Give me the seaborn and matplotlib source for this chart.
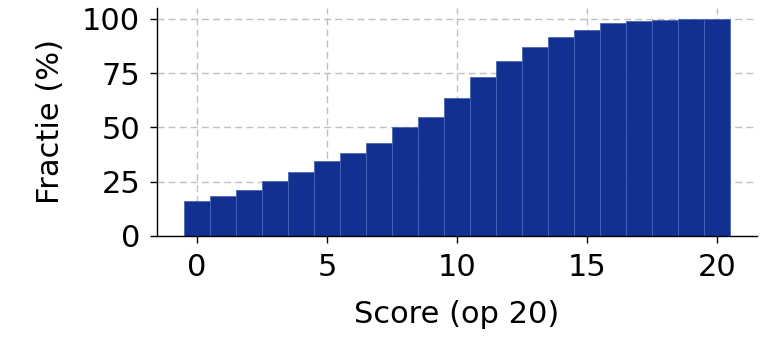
import matplotlib
matplotlib.use("Agg")
import matplotlib.pyplot as plt
import seaborn as sns
import pandas as pd

scores = list(range(21))
cum_pct = [15.9, 18.5, 21.3, 25.5, 29.6, 34.6, 38.1, 42.7, 50.0, 54.8, 63.4,
           73.0, 80.6, 86.9, 91.7, 94.8, 98.3, 99.1, 99.5, 99.8, 100.0]
yticks = [0, 25, 50, 75, 100]
xticks = [0, 5, 10, 15, 20]

sns.set_style("ticks")
plt.rcParams['font.family'] = ['DejaVu Sans']
plt.rcParams['font.sans-serif'] = ['DejaVu Sans']

df = pd.DataFrame({"score": scores, "pct": cum_pct})

fig, ax = plt.subplots(figsize=(7.76, 3.48), dpi=100)
fig.subplots_adjust(left=0.202, right=0.976, top=0.977, bottom=0.322)

sns.histplot(data=df, x="score", weights="pct", discrete=True, ax=ax,
             color="#12308f", alpha=1.0, edgecolor="#4a66b8", linewidth=0.6)

ax.set_yticks(yticks)
ax.set_xticks(xticks)
ax.grid(True, linestyle=(0, (5, 3)), color="#c0c0c0", linewidth=1.0)
ax.set_axisbelow(True)
sns.despine(ax=ax)
ax.tick_params(labelsize=22, length=5, width=1.0, pad=7,
               color="black", labelcolor="black")
ax.set_xlabel("Score (op 20)", fontsize=22, labelpad=13, color="black")
ax.set_ylabel("Fractie (%)", fontsize=22, labelpad=12, color="black")
for s in ax.spines.values():
    s.set_linewidth(1.0)
    s.set_color("black")

fig.savefig("out.png", dpi=100)
